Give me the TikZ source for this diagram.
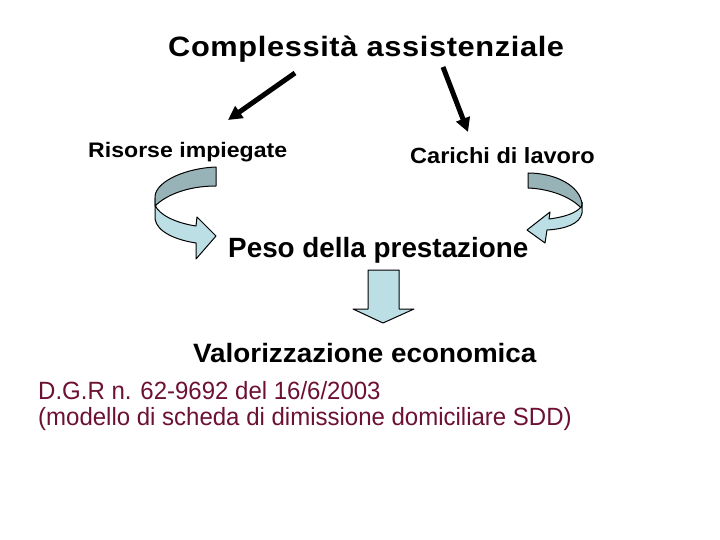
\documentclass[tikz,border=0pt]{standalone}
\usepackage{fontspec}
\usepackage{graphicx}
\setmainfont{Liberation Sans}
\usetikzlibrary{arrows.meta}
\definecolor{lightb}{RGB}{188,223,229}
\definecolor{darkb}{RGB}{152,179,184}
\definecolor{maroon}{RGB}{108,16,52}
\begin{document}
\begin{tikzpicture}[x=1pt,y=-1pt,
  txt/.style={inner sep=0pt,anchor=base west},
  blackarrow/.style={line width=5pt,-{Triangle[length=14pt,width=14pt]}},
  band/.style={draw=black,line width=1pt,line join=round}]
\useasboundingbox (0,0) rectangle (720,540);

% texts
\node[txt] (title) at (168,57) {\scalebox{1.1}[1]{\fontsize{28}{30}\selectfont\bfseries\addfontfeatures{LetterSpace=2}Complessità assistenziale}};
\node[txt] (ris) at (88,158) {\scalebox{1.1}[1]{\fontsize{21}{24}\selectfont\bfseries Risorse impiegate}};
\node[txt] (car) at (410,164) {\scalebox{1.07}[1]{\fontsize{22}{24}\selectfont\bfseries Carichi di lavoro}};
\node[txt] (peso) at (228,258) {\scalebox{1.02}[1.02]{\fontsize{27.3}{30}\selectfont\bfseries Peso della prestazione}};
\node[txt] (val) at (193,362) {\scalebox{1.07}[1.02]{\fontsize{26}{28}\selectfont\bfseries Valorizzazione economica}};
\node[txt,text=maroon] (dgr1) at (38,399) {\scalebox{1}[1.04]{\fontsize{24}{26}\selectfont D.G.R n. 62-9692 del 16/6/2003}};
\node[txt,text=maroon] (dgr2) at (38,425) {\scalebox{1}[1.04]{\fontsize{24}{26}\selectfont (modello di scheda di dimissione domiciliare SDD)}};

% black arrows
\coordinate (a1s) at (295,73);
\coordinate (a1e) at (228,120);
\coordinate (a2s) at (443,67);
\coordinate (a2e) at (468,132);
\draw[blackarrow] (a1s) -- (a1e);
\draw[blackarrow] (a2s) -- (a2e);

% left curved arrow
\fill[lightb] (155,198) -- (155,219) .. controls (157,232) and (176,240) .. (196,243) -- (196,259) -- (216,236) -- (197,217) -- (196,226) .. controls (176,223) and (159,215) .. (155,205) -- cycle;
\draw[band] (155,198) -- (155,219) .. controls (157,232) and (176,240) .. (196,243) -- (196,259) -- (216,236) -- (197,217) -- (196,226) .. controls (176,223) and (159,215) .. (155,205);
\draw[band,fill=darkb] (216,167) .. controls (188,168) and (157,180) .. (155,196) -- (155,206) .. controls (165,196) and (186,186) .. (216,186) -- cycle;

% right curved arrow
\fill[lightb] (582,202) -- (582,213) .. controls (580,224) and (565,229) .. (547,230) -- (545,243) -- (527,230) -- (550,212) -- (549,219) .. controls (565,217) and (576,213) .. (581,207) -- cycle;
\draw[band] (582,202) -- (582,213) .. controls (580,224) and (565,229) .. (547,230) -- (545,243) -- (527,230) -- (550,212) -- (549,219) .. controls (565,217) and (576,213) .. (581,207);
\draw[band,fill=darkb] (528,173) .. controls (556,173) and (580,186) .. (582,204) -- (581,208) .. controls (572,198) and (552,189) .. (528,188) -- cycle;

% down arrow
\draw[band,fill=lightb] (368,270) -- (399,270) -- (399,309) -- (414,309) -- (383,323) -- (353,309) -- (368,309) -- cycle;
\end{tikzpicture}
\end{document}
